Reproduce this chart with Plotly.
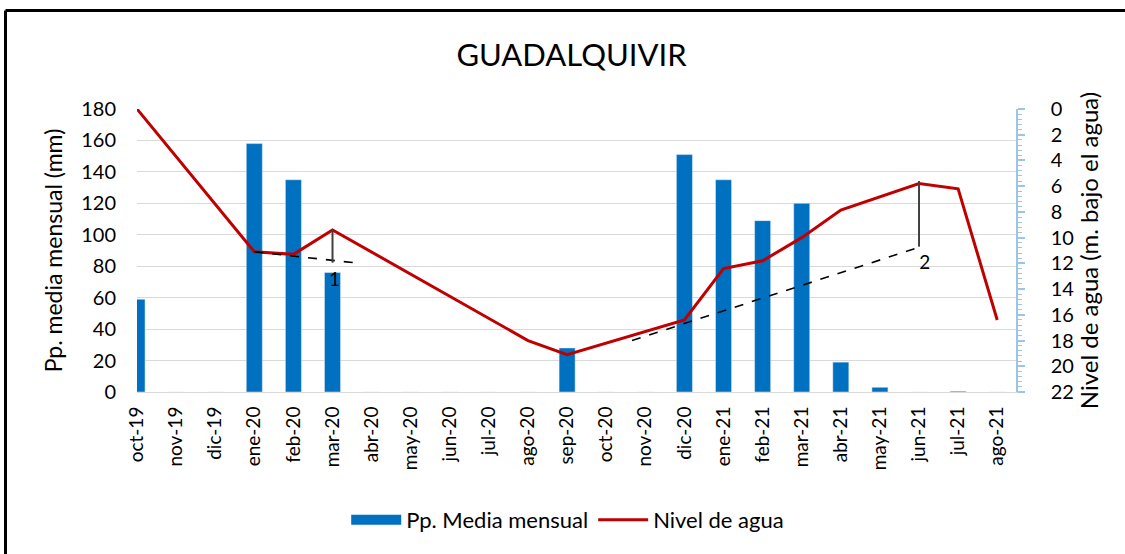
import plotly.graph_objects as go

# ---- data ----
months = ["oct-19", "nov-19", "dic-19", "ene-20", "feb-20", "mar-20", "abr-20", "may-20",
          "jun-20", "jul-20", "ago-20", "sep-20", "oct-20", "nov-20", "dic-20", "ene-21",
          "feb-21", "mar-21", "abr-21", "may-21", "jun-21", "jul-21", "ago-21"]
pp_mm = [59, 0, 0, 158, 135, 76, 0, 0, 0, 0, 0, 28, 0, 0, 151, 135, 109, 120, 19, 3, 0, 0.5, 0]
nivel = [0, None, None, 11.1, 11.3, 9.4, None, None, None, None, 18.0, 19.1, None, None,
         16.4, 12.4, 11.8, 10.0, 7.85, None, 5.8, 6.2, 16.4]

# guide lines drawn on chart (category index, level in m)
trend1_x = [3, 5.55]
trend1_y = [11.1, 11.95]
drop1_x = [5, 5]
drop1_y = [9.4, 11.95]
trend2_x = [12.66, 20.05]
trend2_y = [18.0, 10.7]
drop2_x = [20, 20]
drop2_y = [5.6, 10.7]
labels_txt = ["1", "2"]
labels_x = [5.05, 20.15]
labels_y = [13.4, 12.1]

xs = list(range(len(months)))
FONT = "Lato, 'Open Sans', sans-serif"

fig = go.Figure()
fig.add_trace(go.Bar(x=xs, y=pp_mm, name="Pp. Media mensual", marker_color="#0070C0",
                     width=0.41, yaxis="y", showlegend=False))
# legend swatch for the bars (wide rectangle like the original)
fig.add_trace(go.Scatter(x=[None], y=[None], mode="lines", name="Pp. Media mensual",
                         line=dict(color="#0070C0", width=14), yaxis="y"))
fig.add_trace(go.Scatter(x=xs, y=nivel, name="Nivel de agua", mode="lines", connectgaps=True,
                         line=dict(color="#C00000", width=3), yaxis="y2"))
for gx, gy, col, dash, w in [(trend1_x, trend1_y, "black", "dash", 1.6),
                             (drop1_x, drop1_y, "#404040", "solid", 2),
                             (trend2_x, trend2_y, "black", "dash", 1.6),
                             (drop2_x, drop2_y, "#404040", "solid", 2)]:
    fig.add_trace(go.Scatter(x=gx, y=gy, mode="lines", showlegend=False, yaxis="y2",
                             line=dict(color=col, dash=dash, width=w), hoverinfo="skip"))
fig.add_trace(go.Scatter(x=labels_x, y=labels_y, mode="text", text=labels_txt, yaxis="y2",
                         showlegend=False, textfont=dict(size=19, color="black", family=FONT)))

W, H = 1125, 554
L, R, T, B = 137, 109, 109, 162
pw, ph = W - L - R, H - T - B

def px_to_paper(x, y):
    return (x - L) / pw, (H - B - y) / ph

bx0, by0 = px_to_paper(5.5, 10.5)
bx1, by1 = px_to_paper(W + 10, H + 10)

fig.update_layout(
    width=W, height=H,
    margin=dict(l=L, r=R, t=T, b=B, autoexpand=False),
    paper_bgcolor="white", plot_bgcolor="white",
    font=dict(family=FONT, color="black"),
    title=dict(text="GUADALQUIVIR", x=0.508, xanchor="center", y=0.90, yanchor="middle",
               font=dict(size=31, family=FONT, color="black")),
    xaxis=dict(range=[0, 22.48], tickmode="array", tickvals=xs, ticktext=months,
               tickangle=-90, tickfont=dict(size=19), showgrid=False, zeroline=False,
               showline=True, linecolor="#D9D9D9", linewidth=1, ticks="",
               ticklabelstandoff=6),
    yaxis=dict(range=[0, 180], dtick=20, showgrid=True, gridcolor="#D9D9D9", gridwidth=1,
               zeroline=False, tickfont=dict(size=20), ticks="", ticklen=0,
               ticklabelstandoff=20,
               title=dict(text="Pp. media mensual (mm)", font=dict(size=23), standoff=12)),
    yaxis2=dict(range=[22, 0], dtick=2, overlaying="y", side="right", showgrid=False,
                zeroline=False, showline=True, linecolor="#9DC3E6", linewidth=1.5,
                ticks="outside", ticklen=7, tickcolor="#9DC3E6", tickwidth=1.5,
                minor=dict(dtick=0.4, ticks="outside", ticklen=4, tickcolor="#9DC3E6", tickwidth=1),
                tickfont=dict(size=20), ticklabelstandoff=22,
                title=dict(text="Nivel de agua (m. bajo el agua)", font=dict(size=24), standoff=6)),
    legend=dict(orientation="h", x=0.49, xanchor="center", y=-0.452, yanchor="middle",
                font=dict(size=22), itemwidth=50, bgcolor="rgba(0,0,0,0)"),
    shapes=[
        dict(type="line", xref="paper", yref="paper", x0=bx0, x1=bx1, y0=by0, y1=by0,
             line=dict(color="black", width=3)),
        dict(type="line", xref="paper", yref="paper", x0=bx0, x1=bx0, y0=by0, y1=by1,
             line=dict(color="black", width=3)),
    ],
)

fig.write_html("out.html", config={"displayModeBar": False},
               post_script="document.body.style.margin='0';")
